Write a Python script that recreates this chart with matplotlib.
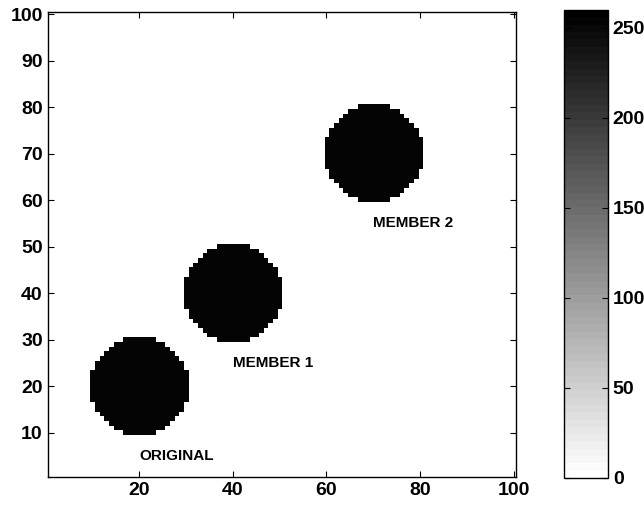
import numpy as np
import matplotlib
matplotlib.use('Agg')
import matplotlib.pyplot as plt
from matplotlib.colors import ListedColormap

plt.rcParams['font.family'] = ['Liberation Sans', 'DejaVu Sans']
plt.rcParams['font.weight'] = 'bold'

# disc data
centers_x = [20, 40, 70]
centers_y = [20, 40, 70]
radius = 10.5
disc_value = 255
labels = ['ORIGINAL', 'MEMBER 1', 'MEMBER 2']
label_offset = 15
grid_n = 100

# build image table from the discs
xx, yy = np.meshgrid(np.arange(1, grid_n + 1), np.arange(1, grid_n + 1))
img = np.zeros((grid_n, grid_n))
for cx, cy in zip(centers_x, centers_y):
    img[(xx - cx) ** 2 + (yy - cy) ** 2 <= radius ** 2] = disc_value

cmap = ListedColormap(plt.get_cmap('gray_r')(np.linspace(0, 1, 64)))

fig = plt.figure(figsize=(6.44, 5.09), dpi=100)
ax = fig.add_axes([47.7 / 644, 1 - 477 / 509, 468.3 / 644, 465.3 / 509])
im = ax.imshow(img, cmap=cmap, vmin=0, vmax=260, origin='lower',
               extent=(0.5, grid_n + 0.5, 0.5, grid_n + 0.5),
               interpolation='nearest', aspect='auto')

for cx, cy, lab in zip(centers_x, centers_y, labels):
    ax.text(cx, cy - label_offset, lab, ha='left', va='center',
            fontsize=11, fontweight='bold')

ax.set_xticks([20, 40, 60, 80, 100])
ax.set_yticks([10, 20, 30, 40, 50, 60, 70, 80, 90, 100])
ax.tick_params(direction='in', length=4, width=0.8, labelsize=14,
               top=True, right=True)
for s in ax.spines.values():
    s.set_linewidth(1.0)

cax = fig.add_axes([564 / 644, 1 - 478 / 509, 44 / 644, 468 / 509])
cb = fig.colorbar(im, cax=cax)
cb.set_ticks([0, 50, 100, 150, 200, 250])
cax.tick_params(direction='in', length=4, width=0.8, labelsize=14,
                left=True, right=True)
cb.outline.set_linewidth(1.0)

fig.savefig('out.png', dpi=100)
